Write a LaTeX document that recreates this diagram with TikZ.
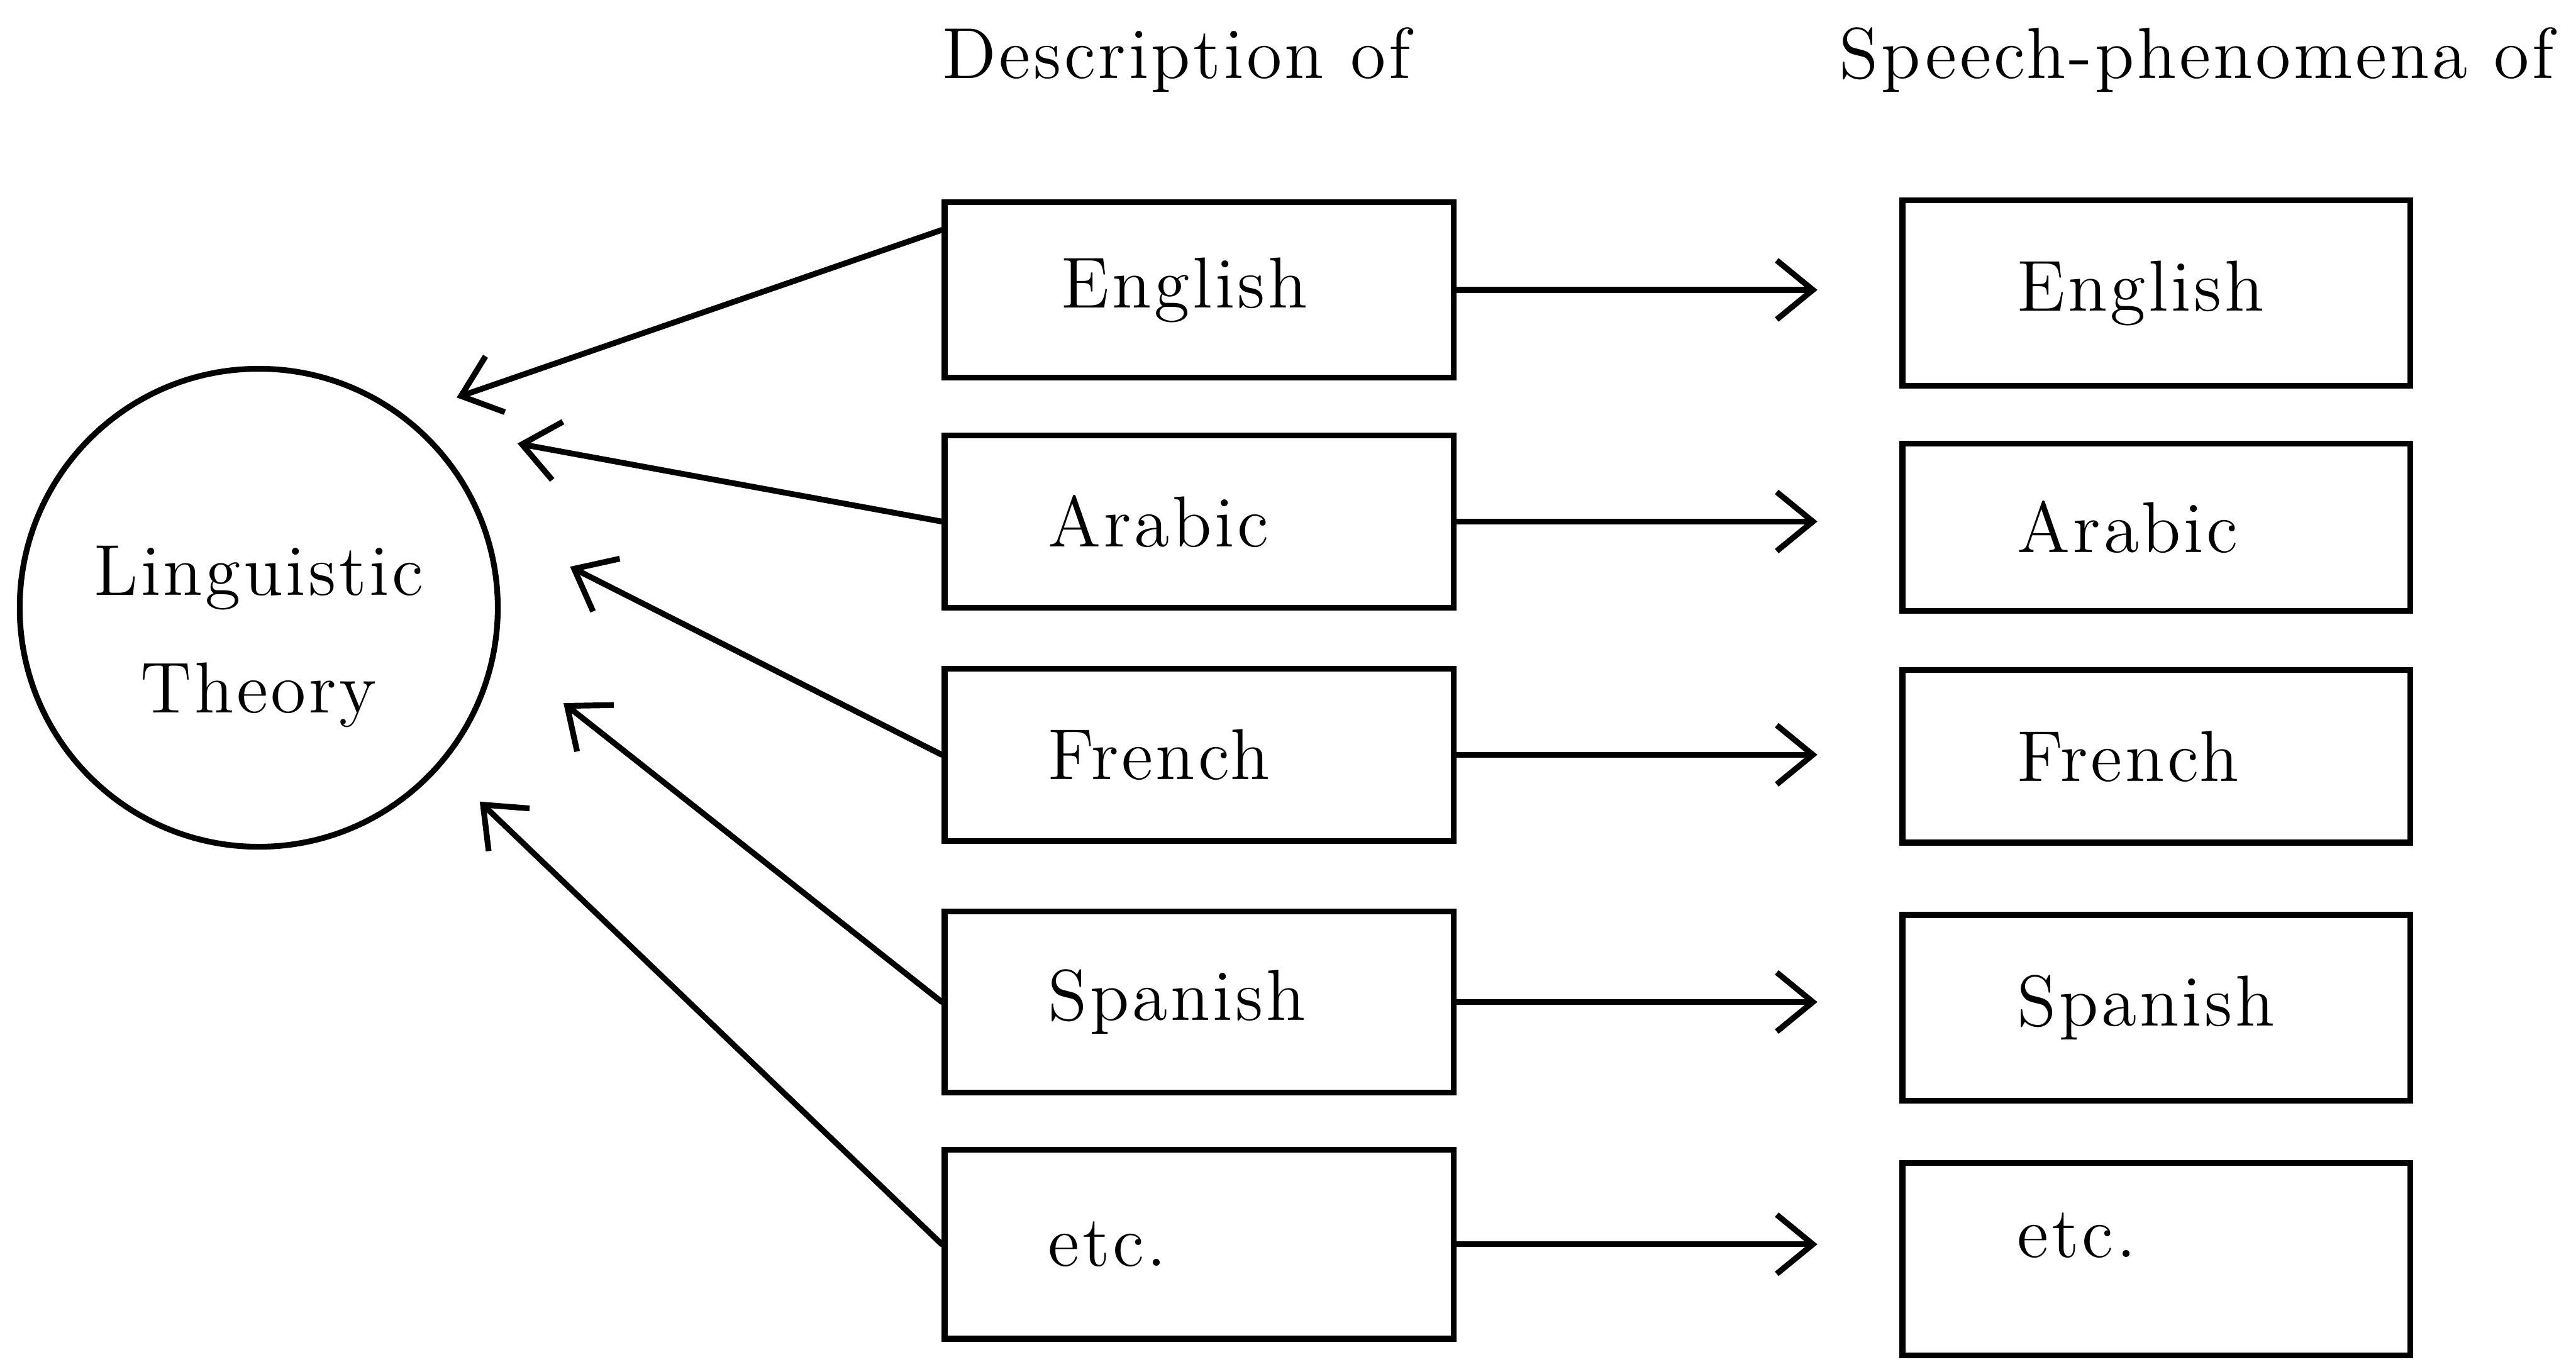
\documentclass[tikz,border=0pt]{standalone}
\usepackage{fontspec}
\setmainfont{Latin Modern Roman}[LetterSpace=4.0]
\usetikzlibrary{positioning,arrows.meta}

\tikzset{
    descbox/.style={draw, line width=1pt, minimum width=3.1cm, inner xsep=0.63cm, text width=1.84cm, align=left, font=\fontsize{12.5}{15}\selectfont},
    speechbox/.style={draw, line width=1pt, minimum width=3.09cm, inner xsep=0.7cm, text width=1.69cm, align=left, font=\fontsize{12.5}{15}\selectfont},
    arr/.style={line width=1pt, line cap=round, -{Straight Barb[length=2.2mm,width=3.6mm]}},
}

\begin{document}
\begin{tikzpicture}
    \useasboundingbox (0,0) rectangle (15.68,-8.29);
    % Headings
    \node[font=\fontsize{12.5}{15}\selectfont] (descHead) at (7.16,-0.365) {Description of};
    \node[font=\fontsize{12.5}{15}\selectfont] (speechHead) at (13.37,-0.365) {Speech-phenomena of};
    % Theory
    \node[draw, circle, line width=1pt, minimum size=2.91cm, align=center, font=\fontsize{12.5}{15}\selectfont] (theory) at (1.575,-3.70) {\rule{0pt}{0.65cm}Linguistic\\[0.19cm]Theory};
    % Descriptions
    \node[descbox, minimum height=1.07cm] (engD) at (7.30,-1.765) {\hspace{0.08cm}English};
    \node[descbox, minimum height=1.05cm] (araD) at (7.30,-3.175) {Arabic};
    \node[descbox, minimum height=1.05cm] (freD) at (7.30,-4.595) {French};
    \node[descbox, minimum height=1.10cm] (spaD) at (7.30,-6.10) {Spanish};
    \node[descbox, minimum height=1.15cm] (etcD) at (7.30,-7.575) {etc.};
    % Speech-phenomena
    \node[speechbox, minimum height=1.13cm] (engS) at (13.125,-1.785) {English};
    \node[speechbox, minimum height=1.02cm] (araS) at (13.125,-3.21) {Arabic};
    \node[speechbox, minimum height=1.05cm] (freS) at (13.125,-4.605) {French};
    \node[speechbox, minimum height=1.13cm] (spaS) at (13.125,-6.135) {Spanish};
    \node[speechbox, minimum height=1.17cm, text depth=0.29cm] (etcS) at (13.125,-7.665) {etc.};
    % Arrow tips near the theory
    \coordinate (tipEng) at (2.78,-2.42);
    \coordinate (tipAra) at (3.15,-2.70);
    \coordinate (tipFre) at (3.47,-3.45);
    \coordinate (tipSpa) at (3.43,-4.28);
    \coordinate (tipEtc) at (2.92,-4.88);
    \draw[arr] ([yshift=0.365cm]engD.west) -- (tipEng);
    \draw[arr] (araD.west) -- (tipAra);
    \draw[arr] (freD.west) -- (tipFre);
    \draw[arr] (spaD.west) -- (tipSpa);
    \draw[arr] (etcD.west) -- (tipEtc);
    % Description -> speech
    \foreach \lang in {eng,ara,fre,spa,etc}
        \draw[arr, shorten >=0.5cm] (\lang D.east) -- (\lang D.east -| \lang S.west);
\end{tikzpicture}
\end{document}
